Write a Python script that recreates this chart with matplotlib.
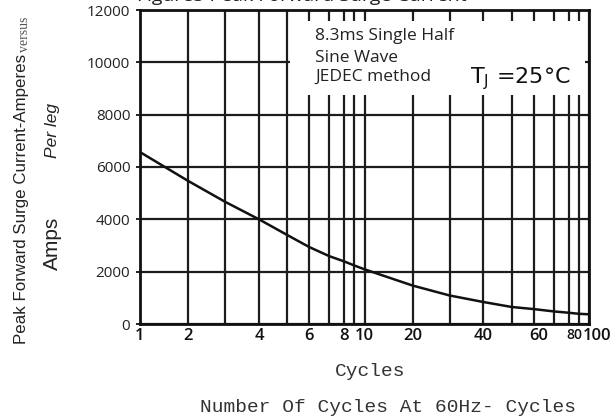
import numpy as np
import matplotlib
matplotlib.use('Agg')
import matplotlib.pyplot as plt
from matplotlib.patches import Rectangle
from matplotlib.ticker import NullFormatter
from matplotlib.transforms import ScaledTranslation

# ---- data ----
cycles = [1, 2, 3, 4, 5, 6, 7, 8, 9, 10, 20, 30, 40, 50, 60, 70, 80, 90, 100]
surge_amps = [6570, 5470, 4670, 4000, 3400, 2940, 2590, 2390, 2235, 2090,
              1470, 1090, 840, 650, 570, 480, 430, 390, 370]

x_major = [1, 2, 4, 6, 8, 10, 20, 40, 60, 80, 100]
x_labels = ['1', '2', '4', '6', '8', '10', '20', '40', '60', '80', '100']
x_minor = [3, 5, 7, 9, 30, 50, 70, 90]
y_ticks = [0, 2000, 4000, 6000, 8000, 10000, 12000]
y_labels = ['0', '2000', '4000', '6000', '8000', '10000', '12000']

# the printed chart's (hand-drawn) logarithmic decade
decade_mant = [1, 2, 3, 4, 5, 6, 7, 8, 9, 10]
decade_frac = [0, 0.214, 0.379, 0.530, 0.656, 0.754, 0.844, 0.910, 0.955, 1.0]


def fwd(x):
    x = np.clip(np.asarray(x, dtype=float), 1e-12, None)
    d = np.floor(np.log10(x) + 1e-12)
    mant = x / 10.0 ** d
    return d + np.interp(mant, decade_mant, decade_frac)


def inv(y):
    y = np.asarray(y, dtype=float)
    d = np.floor(y + 1e-12)
    mant = np.interp(y - d, decade_frac, decade_mant)
    return mant * 10.0 ** d


W, H = 613, 420
fig = plt.figure(figsize=(W / 100, H / 100), dpi=100)
ax = fig.add_axes([140 / W, 1 - 324 / H, 449 / W, 314 / H])
ax.set_xscale('function', functions=(fwd, inv))
ax.set_xlim(1, 100)
ax.set_ylim(0, 12000)

ax.set_xticks(x_major, labels=x_labels)
ax.set_xticks(x_minor, minor=True)
ax.xaxis.set_minor_formatter(NullFormatter())
ax.set_yticks(y_ticks, labels=y_labels)

ax.set_axisbelow(True)
gc = '#1c1c1c'
ax.grid(True, which='both', axis='x', color=gc, lw=1.6)
ax.grid(True, which='major', axis='y', color=gc, lw=1.6)
for t in ax.xaxis.get_minor_ticks():
    if abs(t.get_loc() - 5) < 1e-9:
        t.gridline.set_color('#b0b0b0')

# white legend box hiding grid behind text
ax.add_patch(Rectangle((5.12, 8770), 96 - 5.12, 11580 - 8770,
                       facecolor='white', edgecolor='none', zorder=1.5))

ax.plot(cycles, surge_amps, color='#111111', lw=1.8, zorder=3)

for s in ax.spines.values():
    s.set_linewidth(2.0)
    s.set_color('#111111')

ax.tick_params(axis='x', which='both', length=0, pad=3)
ax.tick_params(axis='y', length=3, width=1.2, pad=4)
for lab in ax.get_yticklabels():
    lab.set_fontfamily('Open Sans')
    lab.set_fontsize(11)
    lab.set_color('#222222')
shift = {'60': 5, '80': 6, '100': 8}
for lab in ax.get_xticklabels():
    lab.set_fontfamily('Open Sans')
    lab.set_fontsize(12)
    lab.set_fontweight('semibold')
    lab.set_color('#111111')
    txt = lab.get_text()
    if txt == '80':
        lab.set_fontsize(10)
    if txt in shift:
        lab.set_transform(lab.get_transform() +
                          ScaledTranslation(shift[txt] / 100, 0, fig.dpi_scale_trans))

# box texts
box_kw = dict(family='Open Sans', fontsize=12.5, color='#222222', va='baseline', ha='left')
fig.text(315 / W, 1 - 40 / H, '8.3ms Single Half', **box_kw)
fig.text(315 / W, 1 - 62 / H, 'Sine Wave', **box_kw)
fig.text(315 / W, 1 - 81 / H, 'JEDEC method', **box_kw)
fig.text(470 / W, 1 - 83 / H, r'T$_\mathregular{J}$ =25°C', family='DejaVu Sans',
         fontsize=16, color='#111111', va='baseline', ha='left')

# title (cut off at top)
fig.text(302 / W, 1 - 1 / H, 'Figure5 Peak Forward Surge Current',
         family='Open Sans', fontsize=14, ha='center', va='baseline', color='#222222')

# y labels
fig.text(22 / W, 1 - 199 / H, 'Peak Forward Surge Current-Amperes', rotation=90,
         family='Liberation Sans', fontsize=12.2, fontstretch='condensed',
         ha='center', va='center', color='#222222')
fig.text(25 / W, 1 - 34 / H, 'versus', rotation=90, family='Liberation Serif',
         fontsize=10, ha='center', va='center', color='#555555')
fig.text(52 / W, 1 - 130 / H, 'Per leg', rotation=90, style='italic',
         family='Liberation Sans', fontsize=12.5,
         ha='center', va='center', color='#222222')
fig.text(52 / W, 1 - 243 / H, 'Amps', rotation=90,
         family='Liberation Sans', fontsize=15,
         ha='center', va='center', color='#222222')

# x labels
fig.text(370 / W, 1 - 372 / H, 'Cycles', family='Liberation Mono', fontsize=14,
         ha='center', va='center', color='#333333')
fig.text(388 / W, 1 - 407 / H, 'Number Of Cycles At 60Hz- Cycles',
         family='Liberation Mono', fontsize=14, ha='center', va='center',
         color='#333333')

fig.savefig('out.png', dpi=100)
